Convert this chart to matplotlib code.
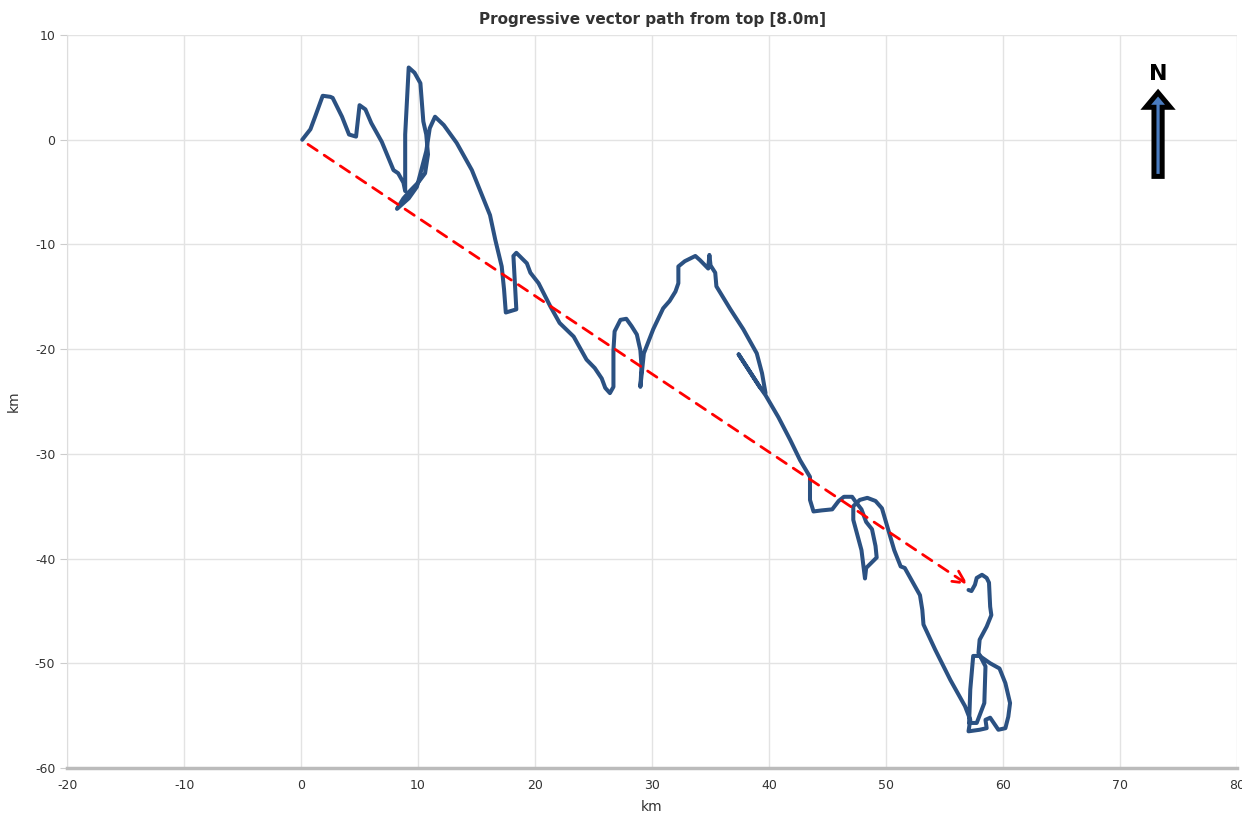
import numpy as np
import matplotlib.pyplot as plt
from matplotlib.patches import FancyArrow

plt.rcParams['axes.unicode_minus'] = False

# progressive vector path (km east, km north)
path_x = [0.1, 0.8, 1.2, 1.85, 2.5, 2.7, 3.5, 4.1, 4.7, 5.0, 5.5, 6.0, 6.9, 7.6, 7.9, 8.3,
          8.75, 8.9, 8.9, 9.2, 9.7, 10.2, 10.45, 10.7, 10.85, 10.6, 10.0, 9.3, 8.75, 8.2,
          9.2, 9.9, 10.7, 11.0, 11.45, 12.2, 13.3, 14.6, 16.15, 16.6, 17.15, 17.35, 17.5,
          18.4, 18.15, 18.4, 19.3, 19.6, 20.3, 21.3, 22.1, 23.3, 24.4, 25.1, 25.7, 26.0,
          26.4, 26.7, 26.7, 26.8, 27.3, 27.8, 28.25, 28.7, 29.0, 29.1, 29.0, 29.3, 30.1,
          30.95, 31.5, 32.0, 32.25, 32.25, 32.8, 33.7, 34.1, 34.8, 34.9, 35.0, 35.4, 35.5,
          36.7, 37.8, 38.95, 39.4, 39.7, 39.2, 37.4, 39.2, 39.7, 40.8, 41.8, 42.65, 43.5,
          43.5, 43.8, 44.5, 45.4, 45.95, 46.4, 47.1, 47.35, 47.9, 48.3, 48.8, 49.1, 49.2,
          48.3, 48.2, 47.9, 47.2, 47.2, 47.75, 48.4, 49.1, 49.65, 50.1, 50.7, 51.25, 51.6,
          52.3, 52.9, 53.1, 53.2, 54.2, 55.5, 56.75, 57.2, 57.05, 58.0, 58.6, 58.5, 58.9,
          59.6, 60.2, 60.45, 60.6, 60.2, 59.7, 58.9, 58.0, 57.45, 57.2, 57.1, 57.75, 58.4,
          58.5, 57.9, 58.0, 58.6, 59.0, 58.9, 58.8, 58.6, 58.2, 57.75, 57.6, 57.3, 57.05]
path_y = [0.0, 1.0, 2.2, 4.2, 4.1, 4.0, 2.2, 0.5, 0.3, 3.3, 2.9, 1.6, -0.2, -2.1, -2.9, -3.2,
          -4.1, -4.9, 0.5, 6.9, 6.4, 5.4, 1.75, 0.5, -1.4, -3.2, -4.1, -4.9, -5.6, -6.6,
          -5.6, -4.5, -1.1, 1.1, 2.2, 1.4, -0.3, -2.9, -7.2, -9.55, -12.1, -14.3, -16.5,
          -16.2, -11.1, -10.8, -11.8, -12.7, -13.7, -15.9, -17.5, -18.8, -21.0, -21.8, -22.8,
          -23.7, -24.2, -23.6, -20.1, -18.3, -17.2, -17.1, -17.8, -18.6, -20.1, -21.6, -23.6,
          -20.4, -18.1, -16.1, -15.4, -14.5, -13.7, -12.1, -11.6, -11.1, -11.5, -12.3, -11.0,
          -12.0, -12.7, -14.0, -16.2, -18.1, -20.4, -22.3, -24.2, -23.6, -20.5, -23.6, -24.4,
          -26.5, -28.65, -30.6, -32.2, -34.4, -35.5, -35.4, -35.3, -34.5, -34.1, -34.1, -34.5,
          -35.3, -36.5, -37.2, -38.8, -39.9, -40.9, -41.9, -39.2, -36.3, -35.0, -34.4, -34.2,
          -34.5, -35.2, -36.9, -39.2, -40.75, -40.9, -42.3, -43.5, -44.9, -46.3, -48.7, -51.6,
          -54.1, -55.4, -56.5, -56.35, -56.2, -55.4, -55.2, -56.35, -56.2, -55.1, -53.8, -51.9,
          -50.5, -50.0, -49.3, -49.3, -52.5, -55.7, -55.7, -53.8, -50.3, -49.0, -47.75, -46.5,
          -45.4, -44.6, -42.3, -41.85, -41.55, -41.85, -42.5, -43.1, -43.0]

# net displacement vector
net_start = (0.0, 0.0)
net_end = (57.0, -42.5)

x_ticks = [-20, -10, 0, 10, 20, 30, 40, 50, 60, 70, 80]
y_ticks = [10, 0, -10, -20, -30, -40, -50, -60]

fig = plt.figure(figsize=(12.42, 8.15), dpi=100)
ax = fig.add_axes([0.054, 0.0577, 0.942, 0.8993])

ax.plot(path_x, path_y, color='#2b5182', lw=2.9, solid_joinstyle='round',
        solid_capstyle='round', zorder=3)

ax.annotate('', xy=net_end, xytext=net_start,
            arrowprops=dict(arrowstyle='->', color='#ff0000', lw=2, linestyle=(0, (4, 3)),
                            mutation_scale=22, shrinkA=6, shrinkB=0), zorder=4)

# north arrow
ax.add_patch(FancyArrow(73.25, -3.5, 0, 8.0, width=0.7, head_width=2.1, head_length=1.4,
                        length_includes_head=True, facecolor='#4a7cc0', edgecolor='black',
                        linewidth=3.6, zorder=5))
ax.text(73.25, 6.3, 'N', ha='center', va='center', fontsize=16, fontweight='bold', zorder=5)

ax.set_xlim(-20, 80)
ax.set_ylim(-60, 10)
ax.set_xticks(x_ticks)
ax.set_yticks(y_ticks)
ax.tick_params(axis='both', labelsize=9, colors='#333333', length=5)
ax.tick_params(axis='x', length=0, pad=8)
ax.tick_params(axis='y', color='#cccccc')
ax.grid(True, color='#e3e3e3', lw=1)
ax.set_axisbelow(True)

for s in ['top', 'right']:
    ax.spines[s].set_visible(False)
ax.spines['left'].set_color('#dddddd')
ax.spines['bottom'].set_color('#bbbbbb')
ax.spines['bottom'].set_linewidth(2.5)

ax.set_xlabel('km', fontsize=10, color='#333333', labelpad=6)
ax.set_ylabel('km', fontsize=10, color='#333333', labelpad=10)
ax.set_title('Progressive vector path from top [8.0m]', fontsize=11, fontweight='bold',
             color='#333333', pad=8)

plt.savefig('out.png', dpi=100)
